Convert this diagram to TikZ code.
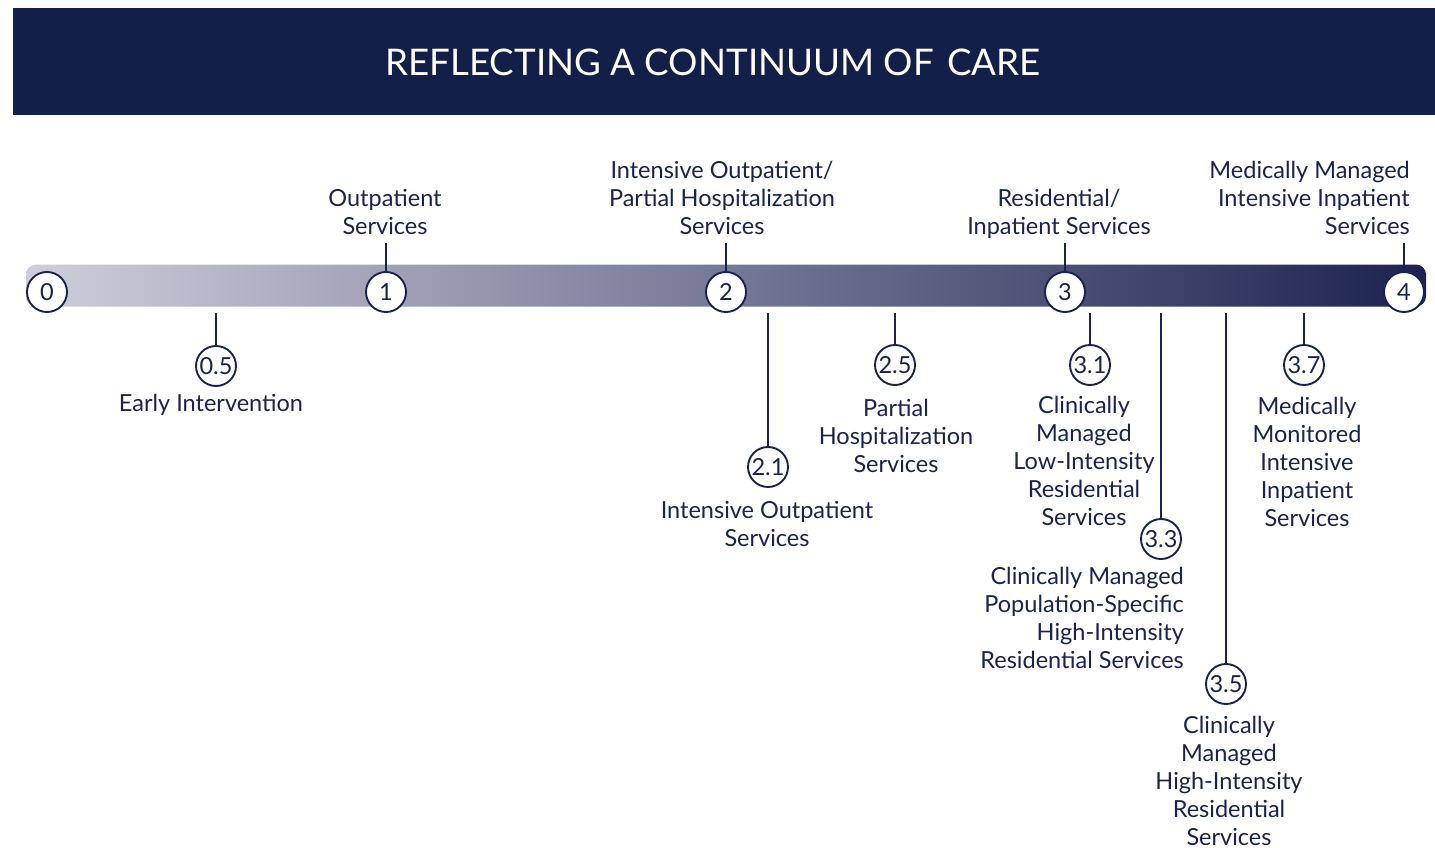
\documentclass[tikz,border=0pt]{standalone}
\usepackage{fontspec}
\setmainfont{Lato}
\usepackage{xcolor}
\definecolor{cNavy}{HTML}{131F49}
\definecolor{cInk}{HTML}{1A2350}
\definecolor{cLight}{HTML}{CFCEDC}
\definecolor{cDark}{HTML}{1C2350}
\usetikzlibrary{positioning}
\newcommand{\labelfont}{\fontsize{23.5}{28}\selectfont}
\tikzset{
  node-step/.style={draw=cInk,line width=1.9pt,circle,fill=white,
    minimum size=40pt,inner sep=0pt,text=cInk,font=\labelfont},
  node-label/.style={align=center,inner sep=0pt,text=cInk,font=\labelfont,
    execute at begin node=\strut,execute at end node=\strut},
  link/.style={draw=cInk,line width=1.9pt},
}

\begin{document}
\begin{tikzpicture}[x=1pt,y=-1pt]
  \useasboundingbox (0,0) rectangle (1435,848);
  % title band
  \fill[cNavy] (13,8) rectangle (1435,115);
  \node[text=white,font=\fontsize{36.7}{40}\selectfont,anchor=base] (title)
    at (713,75.5) {REFLECTING A CONTINUUM OF\hspace{4pt} CARE};
  % gradient bar
  \shade[left color=cLight,right color=cDark,rounded corners=10pt]
    (26,264.5) rectangle (1426,306.5);
  % main levels
  \node[node-step] (s0) at (47,292)   {0};
  \node[node-step] (s1) at (386,292)  {1};
  \node[node-step] (s2) at (726,292)  {2};
  \node[node-step] (s3) at (1065,292) {3};
  \node[node-step] (s4) at (1404,292) {4};
  % sub levels
  \node[node-step] (s05) at (216,366)  {0.5};
  \node[node-step] (s21) at (768,467)  {2.1};
  \node[node-step] (s25) at (895,365)  {2.5};
  \node[node-step] (s31) at (1090,365) {3.1};
  \node[node-step] (s33) at (1161,539) {3.3};
  \node[node-step] (s35) at (1226,684) {3.5};
  \node[node-step] (s37) at (1304,365) {3.7};
  \foreach \n/\x in {05/216,21/768,25/895,31/1090,33/1161,35/1226,37/1304}{
    \coordinate (d\n) at (\x,313);
    \draw[link] (d\n) -- (s\n.north);
  }
  % labels above the bar
  \node[node-label,anchor=south] (l1) at (385,243) {Outpatient\\Services};
  \node[node-label,anchor=south] (l2) at (722,243)
    {Intensive Outpatient/\\Partial Hospitalization\\Services};
  \node[node-label,anchor=south] (l3) at (1059,243)
    {Residential/\\Inpatient Services};
  \node[node-label,align=right,anchor=south east] (l4) at (1410,243)
    {Medically Managed\\Intensive Inpatient\\Services};
  \draw[link] (l1.south -| s1) -- (s1.north);
  \draw[link] (l2.south -| s2) -- (s2.north);
  \draw[link] (l3.south -| s3) -- (s3.north);
  \draw[link] (l4.south -| s4) -- (s4.north);
  % labels below the bar
  \node[node-label,anchor=north] (l05) at (211,392) {Early Intervention};
  \node[node-label,anchor=north] (l21) at (767,501)
    {Intensive Outpatient\\Services};
  \node[node-label,anchor=north] (l25) at (896,399)
    {Partial\\Hospitalization\\Services};
  \node[node-label,anchor=north] (l31) at (1084,396)
    {Clinically\\Managed\\Low-Intensity\\Residential\\Services};
  \node[node-label,align=right,anchor=north east] (l33) at (1184,567)
    {Clinically Managed\\Population-Specific\\High-Intensity\\Residential Services};
  \node[node-label,anchor=north] (l35) at (1229,716)
    {Clinically\\Managed\\High-Intensity\\Residential\\Services};
  \node[node-label,anchor=north] (l37) at (1307,397)
    {Medically\\Monitored\\Intensive\\Inpatient\\Services};
\end{tikzpicture}
\end{document}
